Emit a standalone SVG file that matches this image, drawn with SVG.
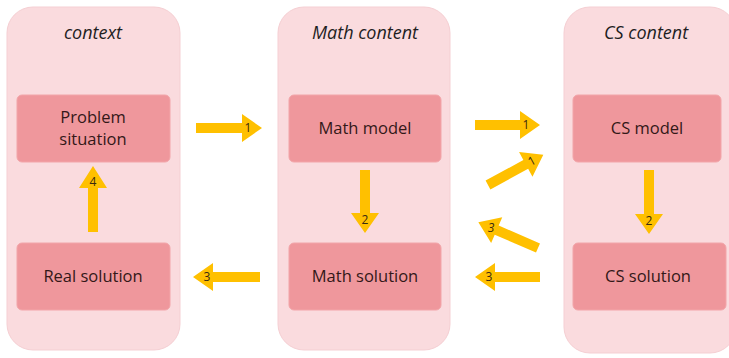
<svg xmlns="http://www.w3.org/2000/svg" width="729" height="358" viewBox="0 0 729 358">
<style>
.col{fill:#FADBDE;stroke:#F5CFD3;stroke-width:1}
.box{fill:#EF979C;stroke:#F2A5A9;stroke-width:1}
.title{font-family:"Open Sans","Liberation Sans",sans-serif;font-style:italic;font-size:18px;fill:#1e1e1e;text-anchor:middle}
.lbl{font-family:"Open Sans","Liberation Sans",sans-serif;font-size:16.5px;fill:#331818;text-anchor:middle}
.arr{fill:#FFC000}
.num{font-family:"Open Sans","Liberation Sans",sans-serif;font-size:12px;fill:#3a2a10;text-anchor:middle}
</style>
<rect width="729" height="358" fill="#ffffff"/>
<g id="context">
<rect class="col" x="7" y="7" width="173" height="343" rx="26"/>
<text class="title" x="93" y="39">context</text>
</g>
<g id="math-content">
<rect class="col" x="278" y="7" width="172" height="343" rx="26"/>
<text class="title" x="365" y="39">Math content</text>
</g>
<g id="cs-content">
<rect class="col" x="564" y="7" width="172" height="346" rx="26"/>
<text class="title" x="646" y="39">CS content</text>
</g>
<g id="problem-situation">
<rect class="box" x="17" y="95" width="153" height="67" rx="5"/>
<text class="lbl" x="93" y="123">Problem</text>
<text class="lbl" x="93" y="145">situation</text>
</g>
<g id="real-solution">
<rect class="box" x="17" y="243" width="153" height="67" rx="5"/>
<text class="lbl" x="93" y="282">Real solution</text>
</g>
<g id="math-model">
<rect class="box" x="289" y="95" width="152" height="67" rx="5"/>
<text class="lbl" x="365" y="134">Math model</text>
</g>
<g id="math-solution">
<rect class="box" x="289" y="243" width="152" height="67" rx="5"/>
<text class="lbl" x="365" y="282">Math solution</text>
</g>
<g id="cs-model">
<rect class="box" x="573" y="95" width="148" height="67" rx="5"/>
<text class="lbl" x="647" y="134">CS model</text>
</g>
<g id="cs-solution">
<rect class="box" x="573" y="243" width="153" height="67" rx="5"/>
<text class="lbl" x="648" y="282">CS solution</text>
</g>
<g id="connectors">
<polygon class="arr" points="196,123 242,123 242,114 262,128 242,142 242,133 196,133"/>
<text class="num" x="248" y="132">1</text>
<polygon class="arr" points="475,120 520,120 520,111 540,125 520,139 520,130 475,130"/>
<text class="num" x="526" y="129">1</text>
<g transform="translate(488,185) rotate(-28.6)">
<polygon class="arr" points="0,-5 43,-5 43,-14 63,0 43,14 43,5 0,5"/>
<text class="num" x="50" y="4">1</text>
</g>
<g transform="translate(538,248) rotate(-156.6)">
<polygon class="arr" points="0,-5 45,-5 45,-14 65,0 45,14 45,5 0,5"/>
</g>
<text class="num" x="491" y="232" font-style="italic">3</text>
<polygon class="arr" points="540,272 495,272 495,263 475,277 495,291 495,282 540,282"/>
<text class="num" x="489" y="281">3</text>
<polygon class="arr" points="260,272 213,272 213,263 193,277 213,291 213,282 260,282"/>
<text class="num" x="207" y="281">3</text>
<polygon class="arr" points="88,232 88,188 79,188 93,166 107,188 98,188 98,232"/>
<text class="num" x="93" y="186">4</text>
<polygon class="arr" points="360,170 360,213 351,213 365,233 379,213 370,213 370,170"/>
<text class="num" x="365" y="224">2</text>
<polygon class="arr" points="644,170 644,214 635,214 649,234 663,214 654,214 654,170"/>
<text class="num" x="649" y="225">2</text>
</g>
</svg>
